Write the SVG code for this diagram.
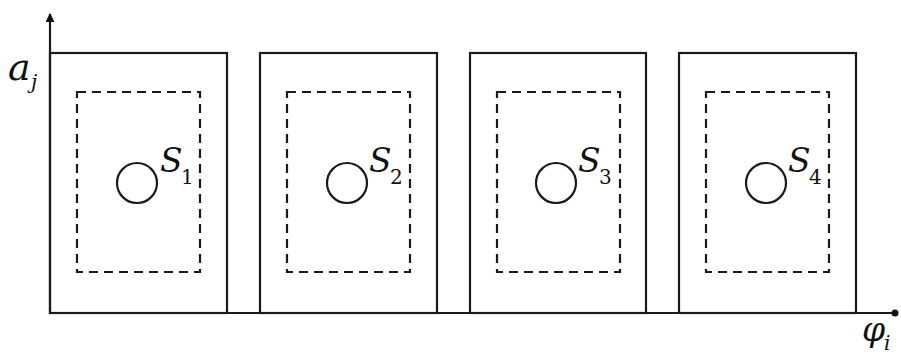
<svg xmlns="http://www.w3.org/2000/svg" width="901" height="354" viewBox="0 0 901 354">
<style>
.box{fill:none;stroke:#1a1a1a;stroke-width:2.2}
.dash{fill:none;stroke:#1a1a1a;stroke-width:2.2;stroke-dasharray:9 6}
.circ{fill:none;stroke:#1a1a1a;stroke-width:2.2}
.axis{fill:none;stroke:#1a1a1a;stroke-width:2.2}
text{fill:#111;font-family:"DejaVu Serif","Liberation Serif",serif}
</style>
<defs>
<marker id="arr" viewBox="0 0 10 10" refX="9" refY="5" markerWidth="4" markerHeight="4" orient="auto">
<path d="M0,0 L10,5 L0,10 z" fill="#111"/>
</marker>
</defs>
<g id="connectors">
<line class="axis" x1="50" y1="314" x2="50" y2="14" marker-end="url(#arr)"/>
<line class="axis" x1="49" y1="313" x2="895" y2="313"/>
<circle cx="895" cy="313" r="3.5" fill="#111"/>
</g>
<g id="axis-labels">
<text x="8" y="80" font-size="38" font-style="italic">a</text>
<text x="31" y="89" font-size="20" font-style="italic">j</text>
<text x="862" y="341" font-size="33" font-style="italic">φ</text>
<text x="884" y="350" font-size="20" font-style="italic">i</text>
</g>
<g id="node-1">
<rect class="box" x="50" y="53" width="177" height="260"/>
<rect class="dash" x="77" y="92" width="123" height="180"/>
<circle class="circ" cx="137" cy="183" r="20"/>
<text x="160" y="172" font-size="33" font-style="italic">S</text>
<text x="181" y="184" font-size="20">1</text>
</g>
<g id="node-2">
<rect class="box" x="260" y="53" width="177" height="260"/>
<rect class="dash" x="287" y="92" width="123" height="180"/>
<circle class="circ" cx="347" cy="183" r="20"/>
<text x="369" y="172" font-size="33" font-style="italic">S</text>
<text x="390" y="184" font-size="20">2</text>
</g>
<g id="node-3">
<rect class="box" x="470" y="53" width="176" height="260"/>
<rect class="dash" x="497" y="92" width="123" height="180"/>
<circle class="circ" cx="556" cy="183" r="20"/>
<text x="578" y="172" font-size="33" font-style="italic">S</text>
<text x="599" y="184" font-size="20">3</text>
</g>
<g id="node-4">
<rect class="box" x="679" y="53" width="177" height="260"/>
<rect class="dash" x="706" y="92" width="123" height="180"/>
<circle class="circ" cx="766" cy="183" r="20"/>
<text x="788" y="172" font-size="33" font-style="italic">S</text>
<text x="809" y="184" font-size="20">4</text>
</g>
</svg>
